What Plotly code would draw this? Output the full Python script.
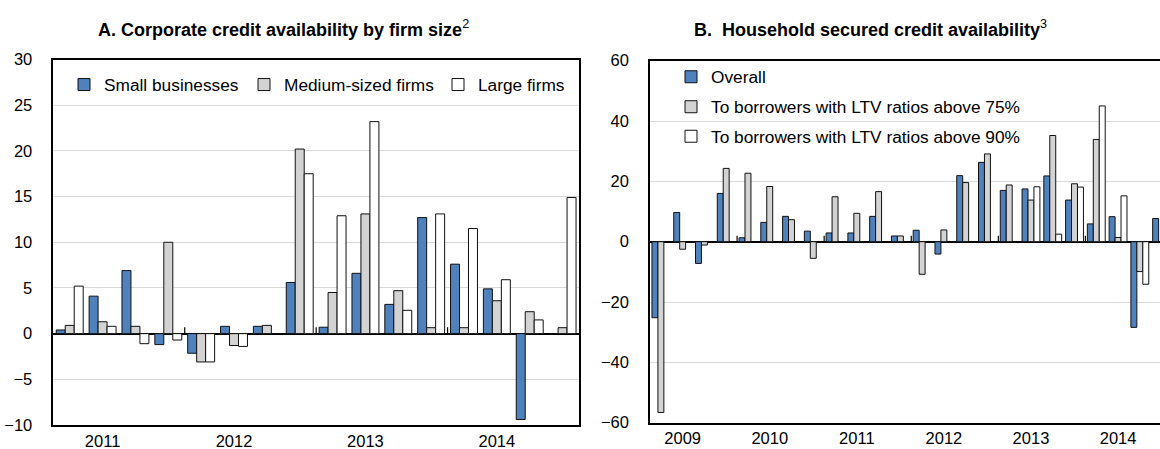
import plotly.graph_objects as go

W, H = 1160, 449

# ---------------- Data ----------------
# Panel A: quarterly 2011Q1 - 2014Q4
a_quarters = list(range(16))
a_year_ticks = [1, 5, 9, 13]
a_year_labels = ["2011", "2012", "2013", "2014"]
a_small = [0.4, 4.1, 6.9, -1.2, -2.15, 0.8, 0.8, 5.6, 0.7, 6.6, 3.2, 12.7, 7.6, 4.9, -9.4, 0]
a_medium = [0.9, 1.3, 0.8, 10.0, -3.1, -1.3, 0.9, 20.2, 4.5, 13.1, 4.7, 0.65, 0.65, 3.6, 2.4, 0.65]
a_large = [5.2, 0.8, -1.1, -0.7, -3.1, -1.4, 0, 17.5, 12.9, 23.2, 2.55, 13.1, 11.5, 5.9, 1.5, 14.9]

# Panel B: quarterly 2009Q1 - 2014Q4
b_quarters = list(range(24))
b_year_ticks = [1, 5, 9, 13, 17, 21]
b_year_labels = ["2009", "2010", "2011", "2012", "2013", "2014"]
b_overall = [-25.2, 9.7, -7.2, 16.0, 1.3, 6.4, 8.4, 3.5, 2.9, 2.9, 8.4, 1.9,
             3.8, -4.1, 21.9, 26.3, 17.0, 17.5, 21.8, 13.8, 5.9, 8.3, -28.4, 7.7]
b_ltv75 = [-56.6, -2.5, -1.1, 24.3, 22.7, 18.3, 7.3, -5.5, 14.9, 9.4, 16.6, 1.9,
           -10.8, 3.9, 19.6, 29.1, 18.8, 13.8, 35.2, 19.2, 33.9, 1.4, -9.9, None]
b_ltv90 = [None] * 17 + [18.2, 2.5, 18.1, 45.0, 15.2, -14.1, None]

# ---------------- Style ----------------
FONT = "Liberation Sans"
BLUE = "#4F81BD"
GREY = "#D3D3D3"
WHITE = "#FFFFFF"
EDGE = "#111111"
GRID = "#D9D9D9"

fig = go.Figure()

def px_x(p):
    return p / W

def px_y(p):
    return 1 - p / H

# panel geometry (pixels)
A_L, A_R, A_T, A_B = 53.3, 579, 59.5, 425
B_L, B_T, B_B = 650, 60.7, 422.7
B_GROUP = 21.77

a_specs = [("Small businesses", a_small, BLUE, "legend", 83),
           ("Medium-sized firms", a_medium, GREY, "legend2", 263),
           ("Large firms", a_large, WHITE, "legend3", 457)]
for name, vals, col, lg, _ in a_specs:
    fig.add_trace(go.Bar(x=a_quarters, y=vals, name=name, marker_color=col,
                         marker_line=dict(color=EDGE, width=1),
                         xaxis="x", yaxis="y", legend=lg))

b_specs = [("Overall", b_overall, BLUE, "legend4", 76),
           ("To borrowers with LTV ratios above 75%", b_ltv75, GREY, "legend5", 106),
           ("To borrowers with LTV ratios above 90%", b_ltv90, WHITE, "legend6", 135.5)]
for name, vals, col, lg, _ in b_specs:
    fig.add_trace(go.Bar(x=b_quarters, y=vals, name=name, marker_color=col,
                         marker_line=dict(color=EDGE, width=1),
                         xaxis="x2", yaxis="y2", legend=lg))

LEG_DY = 1
legend_layouts = {}
for name, vals, col, lg, sq in a_specs:
    legend_layouts[lg] = dict(x=px_x(sq - 19), y=px_y(83.8 + LEG_DY), xanchor="left", yanchor="middle",
                              bgcolor="rgba(0,0,0,0)", borderwidth=0,
                              font=dict(family=FONT, size=17.3, color="#000"))
for name, vals, col, lg, yc in b_specs:
    legend_layouts[lg] = dict(x=px_x(690 - 19), y=px_y(yc + LEG_DY), xanchor="left", yanchor="middle",
                              bgcolor="rgba(0,0,0,0)", borderwidth=0,
                              font=dict(family=FONT, size=17.3, color="#000"))

b_right = (W - B_L) / B_GROUP - 0.5

axis_common = dict(showline=True, linecolor="#000", linewidth=1.5, automargin=False,
                   tickfont=dict(family=FONT, size=16.5, color="#000"))

fig.update_layout(
    width=W, height=H,
    margin=dict(l=0, r=0, t=0, b=0, autoexpand=False),
    paper_bgcolor="white", plot_bgcolor="white",
    barmode="group", bargap=0.18, bargroupgap=0,
    showlegend=True,
    xaxis=dict(domain=[px_x(A_L), px_x(A_R)], anchor="y", range=[-0.5, 15.5],
               tickvals=a_year_ticks, ticktext=a_year_labels, ticks="",
               showgrid=False, zeroline=False, mirror=True, ticklabelstandoff=0,
               **axis_common),
    yaxis=dict(domain=[px_y(A_B), px_y(A_T)], anchor="x", range=[-10, 30], dtick=5,
               ticks="", showgrid=True, gridcolor=GRID, gridwidth=1,
               zeroline=True, zerolinecolor="#000", zerolinewidth=1.5,
               mirror=True, ticklabelstandoff=16, **axis_common),
    xaxis2=dict(domain=[px_x(B_L), 1.0], anchor="y2", range=[-0.5, b_right],
                tickvals=b_year_ticks, ticktext=b_year_labels, ticks="",
                showgrid=False, zeroline=False, mirror=True, ticklabelstandoff=0,
                **axis_common),
    yaxis2=dict(domain=[px_y(B_B), px_y(B_T)], anchor="x2", range=[-60, 60], dtick=20,
                ticks="", showgrid=True, gridcolor=GRID, gridwidth=1,
                zeroline=True, zerolinecolor="#000", zerolinewidth=1.5,
                mirror=False, ticklabelstandoff=16, **axis_common),
    **legend_layouts,
)

# year-boundary tick marks on the zero line
shapes = []
for q in a_quarters[4::4]:
    shapes.append(dict(type="line", xref="x", yref="y", x0=q - 0.5, x1=q - 0.5, y0=0, y1=0.7,
                       line=dict(color="#000", width=1.2)))
for q in b_quarters[4::4]:
    shapes.append(dict(type="line", xref="x2", yref="y2", x0=q - 0.5, x1=q - 0.5, y0=0, y1=2.0,
                       line=dict(color="#000", width=1.2)))
fig.update_layout(shapes=shapes)

# titles
TITLE_Y = 28
fig.add_annotation(x=px_x(283.5), y=px_y(TITLE_Y), xref="paper", yref="paper",
                   text="<b>A. Corporate credit availability by firm size</b><sup>2</sup>",
                   showarrow=False, xanchor="center", yanchor="middle",
                   font=dict(family=FONT, size=18, color="#000"))
fig.add_annotation(x=px_x(870), y=px_y(TITLE_Y), xref="paper", yref="paper",
                   text="<b>B.\u00a0 Household secured credit availability</b><sup>3</sup>",
                   showarrow=False, xanchor="center", yanchor="middle",
                   font=dict(family=FONT, size=18, color="#000"))

fig.write_html("out.html", config={"displayModeBar": False},
               post_script="document.body.style.margin='0';document.body.style.overflow='hidden';")
